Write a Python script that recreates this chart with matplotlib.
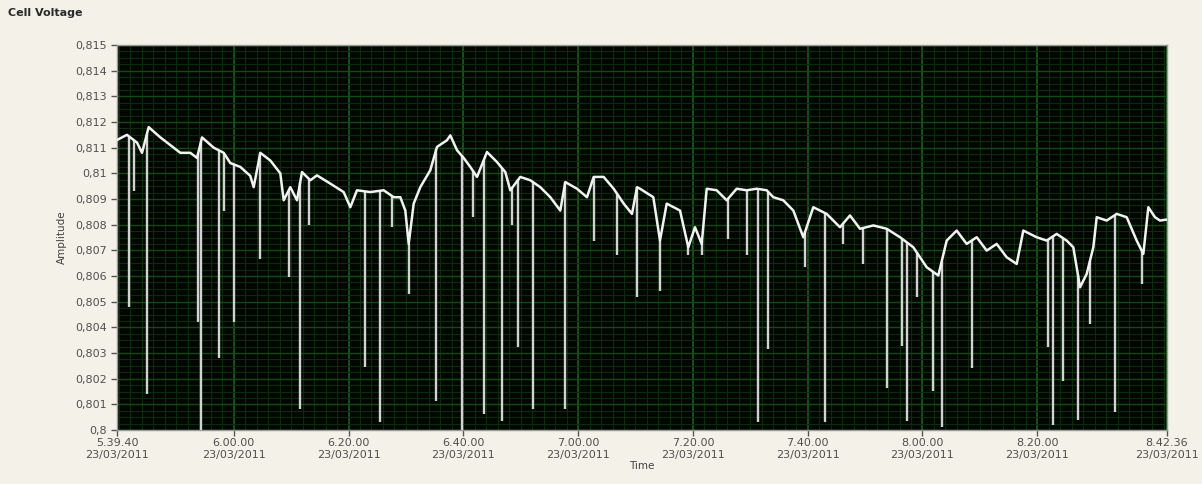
import numpy as np
import matplotlib
matplotlib.use("Agg")
import matplotlib.pyplot as plt

# ---- data (elapsed minutes since 05:39:40, cell voltage in V) ----
base_t = [0.0, 1.74, 3.48, 4.36, 5.52, 7.55, 9.29, 11.03, 12.77, 13.94, 14.81, 16.84,
          18.59, 19.74, 21.48, 23.22, 23.81, 24.97, 26.71, 28.45, 29.04, 30.19, 31.36,
          32.23, 33.68, 34.84, 37.16, 39.49, 40.65, 41.81, 44.13, 46.46, 48.21, 49.36,
          50.23, 50.82, 51.69, 52.84, 54.58, 55.75, 57.49, 58.07, 59.24, 60.40, 61.55,
          62.72, 64.46, 66.20, 67.65, 68.52, 70.26, 72.01, 73.75, 75.49, 77.23, 78.10,
          80.14, 81.88, 83.05, 84.79, 86.53, 88.28, 89.72, 90.60, 91.12, 93.44, 94.60,
          95.77, 98.09, 99.53, 100.70, 101.87, 102.74, 104.48, 106.22, 107.96, 109.71,
          111.45, 113.19, 114.34, 116.08, 117.83, 119.57, 121.31, 123.64, 125.96, 127.70,
          129.45, 131.77, 134.10, 136.42, 138.73, 141.07, 143.09, 144.55, 146.29, 148.03,
          149.78, 151.52, 153.26, 155.00, 156.75, 157.90, 160.23, 161.97, 163.71, 165.45,
          166.61, 167.78, 168.94, 170.10, 170.69, 172.43, 174.17, 175.91, 177.65, 178.81,
          179.68, 180.84, 181.71, 182.93]
base_v = [0.8113, 0.8115, 0.8112, 0.8108, 0.8118, 0.8114, 0.8111, 0.8108, 0.8108, 0.8106,
          0.8114, 0.8110, 0.8108, 0.8104, 0.81025, 0.8099, 0.80946, 0.8108, 0.8105, 0.8100,
          0.80895, 0.80946, 0.80895, 0.81005, 0.80973, 0.80992, 0.8096, 0.80927, 0.80868,
          0.80934, 0.80927, 0.80934, 0.80907, 0.80907, 0.80855, 0.80725, 0.80882, 0.80946,
          0.81012, 0.81103, 0.81129, 0.81148, 0.8109, 0.8106, 0.81025, 0.80986, 0.81083,
          0.81044, 0.81005, 0.80934, 0.80986, 0.80973, 0.80946, 0.80907, 0.80855, 0.80966,
          0.8094, 0.80907, 0.80986, 0.80986, 0.8094, 0.80882, 0.80842, 0.80946, 0.8094,
          0.80907, 0.80738, 0.80882, 0.80855, 0.80712, 0.8079, 0.80725, 0.8094, 0.80934,
          0.80895, 0.8094, 0.80934, 0.8094, 0.80934, 0.80907, 0.80895, 0.80855, 0.80751,
          0.80868, 0.80842, 0.8079, 0.80836, 0.80784, 0.80797, 0.80784, 0.80751, 0.80712,
          0.80634, 0.80602, 0.80738, 0.80777, 0.80725, 0.80751, 0.80699, 0.80725, 0.80673,
          0.80647, 0.80777, 0.80751, 0.80738, 0.80764, 0.80738, 0.80712, 0.80556, 0.80608,
          0.80712, 0.80829, 0.80816, 0.80842, 0.80829, 0.80738, 0.80686, 0.80868, 0.80829,
          0.80816, 0.8082]

spike_t = [2.04, 2.91, 5.23, 14.11, 14.63, 17.72, 18.59, 20.44, 24.97, 29.91, 31.93, 33.40,
           43.26, 45.87, 47.91, 50.82, 55.63, 60.11, 62.02, 63.89, 67.08, 68.82, 69.95,
           72.39, 78.10, 83.05, 87.11, 90.60, 94.60, 99.48, 101.92, 106.45, 109.76, 111.68,
           113.42, 119.87, 123.36, 126.49, 129.97, 134.15, 136.71, 137.58, 139.33, 142.17,
           143.68, 148.91, 162.20, 163.07, 164.81, 167.43, 169.52, 173.87, 178.52]
spike_v = [0.8048, 0.8093, 0.8014, 0.8042, 0.8000, 0.8028, 0.80855, 0.8042, 0.80667, 0.80595,
           0.8008, 0.80797, 0.80244, 0.8003, 0.8079, 0.8053, 0.80113, 0.8000, 0.80829,
           0.80063, 0.80035, 0.8080, 0.80322, 0.8008, 0.8008, 0.80738, 0.8068, 0.80517,
           0.8054, 0.8068, 0.8068, 0.80746, 0.8068, 0.8003, 0.80315, 0.80634, 0.8003,
           0.80725, 0.80648, 0.80165, 0.80328, 0.80035, 0.80517, 0.80152, 0.8001, 0.80243,
           0.80322, 0.8002, 0.8019, 0.8004, 0.80414, 0.8007, 0.8057]

tick_pos = [0.0, 20.333, 40.333, 60.333, 80.333, 100.333, 120.333, 140.333, 160.333, 182.933]
tick_labels = ["5.39.40", "6.00.00", "6.20.00", "6.40.00", "7.00.00", "7.20.00",
               "7.40.00", "8.00.00", "8.20.00", "8.42.36"]
date_label = "23/03/2011"
y_ticks = [0.800, 0.801, 0.802, 0.803, 0.804, 0.805, 0.806, 0.807, 0.808, 0.809,
           0.810, 0.811, 0.812, 0.813, 0.814, 0.815]

# ---- figure ----
W, H = 1202, 484
fig = plt.figure(figsize=(W / 100, H / 100), dpi=100)
fig.patch.set_facecolor("#f3f1e8")
ax = fig.add_axes([117 / W, 1 - 430 / H, 1050 / W, 385 / H])
ax.set_facecolor("#010601")

ax.set_xlim(0, 182.933)
ax.set_ylim(0.8, 0.815)

# grid
ax.set_xticks(tick_pos)
ax.set_xticks(np.arange(0.333, 182.9, 2.0), minor=True)
ax.set_yticks(y_ticks)
ax.set_yticks(np.arange(0.8, 0.8151, 0.00025), minor=True)
ax.grid(which="minor", color="#0a2c0b", lw=0.8)
ax.grid(which="major", axis="y", color="#124a13", lw=1.0)
ax.grid(which="major", axis="x", color="#18601a", lw=1.2)
ax.set_axisbelow(True)

# data
top = np.interp(spike_t, base_t, base_v)
ax.vlines(spike_t, spike_v, top, color="#d2d2d2", lw=1.7, zorder=3)
ax.plot(base_t, base_v, color="#f2f2f2", lw=1.8, zorder=4)

# ticks & labels
ylabels = [("%.3f" % v).rstrip("0").rstrip(".").replace(".", ",") for v in y_ticks]
ax.set_yticklabels(ylabels)
ax.set_xticklabels([f"{l}\n{date_label}" for l in tick_labels], linespacing=1.15)
ax.tick_params(axis="both", which="major", labelsize=8, colors="#555555",
               length=4, width=1, labelcolor="#505050")
ax.tick_params(axis="both", which="minor", length=0)
ax.tick_params(axis="x", pad=2)
for s in ax.spines.values():
    s.set_color("#9a9a9a")
    s.set_linewidth(1)

ax.set_ylabel("Amplitude", fontsize=7.5, color="#404040", labelpad=6)
ax.set_xlabel("Time", fontsize=7.5, color="#404040", labelpad=1)

fig.text(8 / W, 1 - 13 / H, "Cell Voltage", fontsize=8, fontweight="bold",
         color="#2a2a2a", va="center", ha="left")

fig.savefig("out.png", dpi=100, facecolor=fig.get_facecolor())
